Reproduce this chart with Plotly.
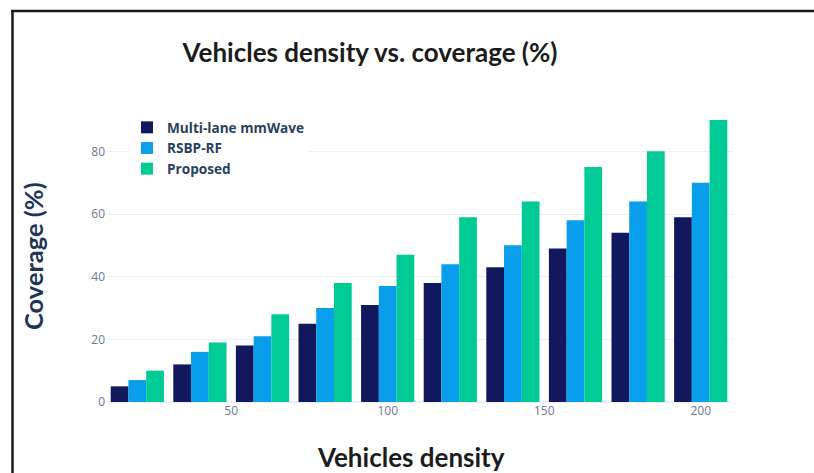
import plotly.graph_objects as go

# Vehicle density groups and coverage (%) per scheme
density = [20, 40, 60, 80, 100, 120, 140, 160, 180, 200]
multilane_mmwave = [5, 12, 18, 25, 31, 38, 43, 49, 54, 59]
rsbp_rf = [7, 16, 21, 30, 37, 44, 50, 58, 64, 70]
proposed = [10, 19, 28, 38, 47, 59, 64, 75, 80, 90]

x_ticks = [50, 100, 150, 200]
y_ticks = [0, 20, 40, 60, 80]

W, H = 814, 473
ML, MR, MT, MB = 106, 82, 105, 71
PW, PH = W - ML - MR, H - MT - MB


def px_x(px):
    return (px - ML) / PW


def px_y(py):
    return (H - MB - py) / PH


fig = go.Figure()
fig.add_trace(go.Bar(x=density, y=multilane_mmwave, name="Multi-lane mmWave",
                     marker=dict(color="#11185E", line=dict(width=0))))
fig.add_trace(go.Bar(x=density, y=rsbp_rf, name="RSBP-RF",
                     marker=dict(color="#089EEB", line=dict(width=0))))
fig.add_trace(go.Bar(x=density, y=proposed, name="Proposed",
                     marker=dict(color="#00CB94", line=dict(width=0))))

fig.update_layout(
    width=W, height=H,
    margin=dict(l=ML, r=MR, t=MT, b=MB, autoexpand=False),
    template="plotly_white",
    paper_bgcolor="white", plot_bgcolor="white",
    barmode="group", bargap=0.15, bargroupgap=0,
    font=dict(family="Open Sans", color="#6a7890", size=12),
    title=dict(text="Vehicles density vs. coverage (%)", x=370 / W, xanchor="center",
               y=1 - 53 / H, yanchor="middle", xref="container", yref="container",
               font=dict(family="Lato", size=26, color="#1c1c1c", weight="bold")),
    legend=dict(x=px_x(127), y=px_y(112), xanchor="left", yanchor="top",
                bgcolor="white", borderwidth=0, tracegroupgap=0,
                font=dict(family="Open Sans", size=13.6, color="#2a3f5f", weight="bold")),
    xaxis=dict(range=[10, 210], tickvals=x_ticks, showgrid=False, zeroline=False,
               showline=False, ticks="", tickfont=dict(color="#6a7890", size=12)),
    yaxis=dict(range=[0, 94.8], tickvals=y_ticks, showgrid=True, gridcolor="#EBF0F8",
               gridwidth=1, zeroline=True, zerolinecolor="#EBF0F8", zerolinewidth=2,
               showline=False, ticks="", tickfont=dict(color="#6a7890", size=12)),
)

# Axis titles
fig.add_annotation(text="<b>Vehicles density</b>", x=px_x(411), y=px_y(457),
                   xref="paper", yref="paper", showarrow=False,
                   xanchor="center", yanchor="middle",
                   font=dict(family="Lato", size=26, color="#1c1c1c"))
fig.add_annotation(text="<b>Coverage (%)</b>", x=px_x(33), y=px_y(256),
                   xref="paper", yref="paper", showarrow=False, textangle=-90,
                   xanchor="center", yanchor="middle",
                   font=dict(family="Lato", size=25.5, color="#1f3558"))

# Frame lines along the top and left edges
fig.add_shape(type="line", xref="paper", yref="paper",
              x0=px_x(11), x1=px_x(W + 2), y0=px_y(11), y1=px_y(11),
              line=dict(color="#1a1a1a", width=2.5))
fig.add_shape(type="line", xref="paper", yref="paper",
              x0=px_x(12.5), x1=px_x(12.5), y0=px_y(10), y1=px_y(H + 2),
              line=dict(color="#1a1a1a", width=2.5))

fig.write_html("out.html")
